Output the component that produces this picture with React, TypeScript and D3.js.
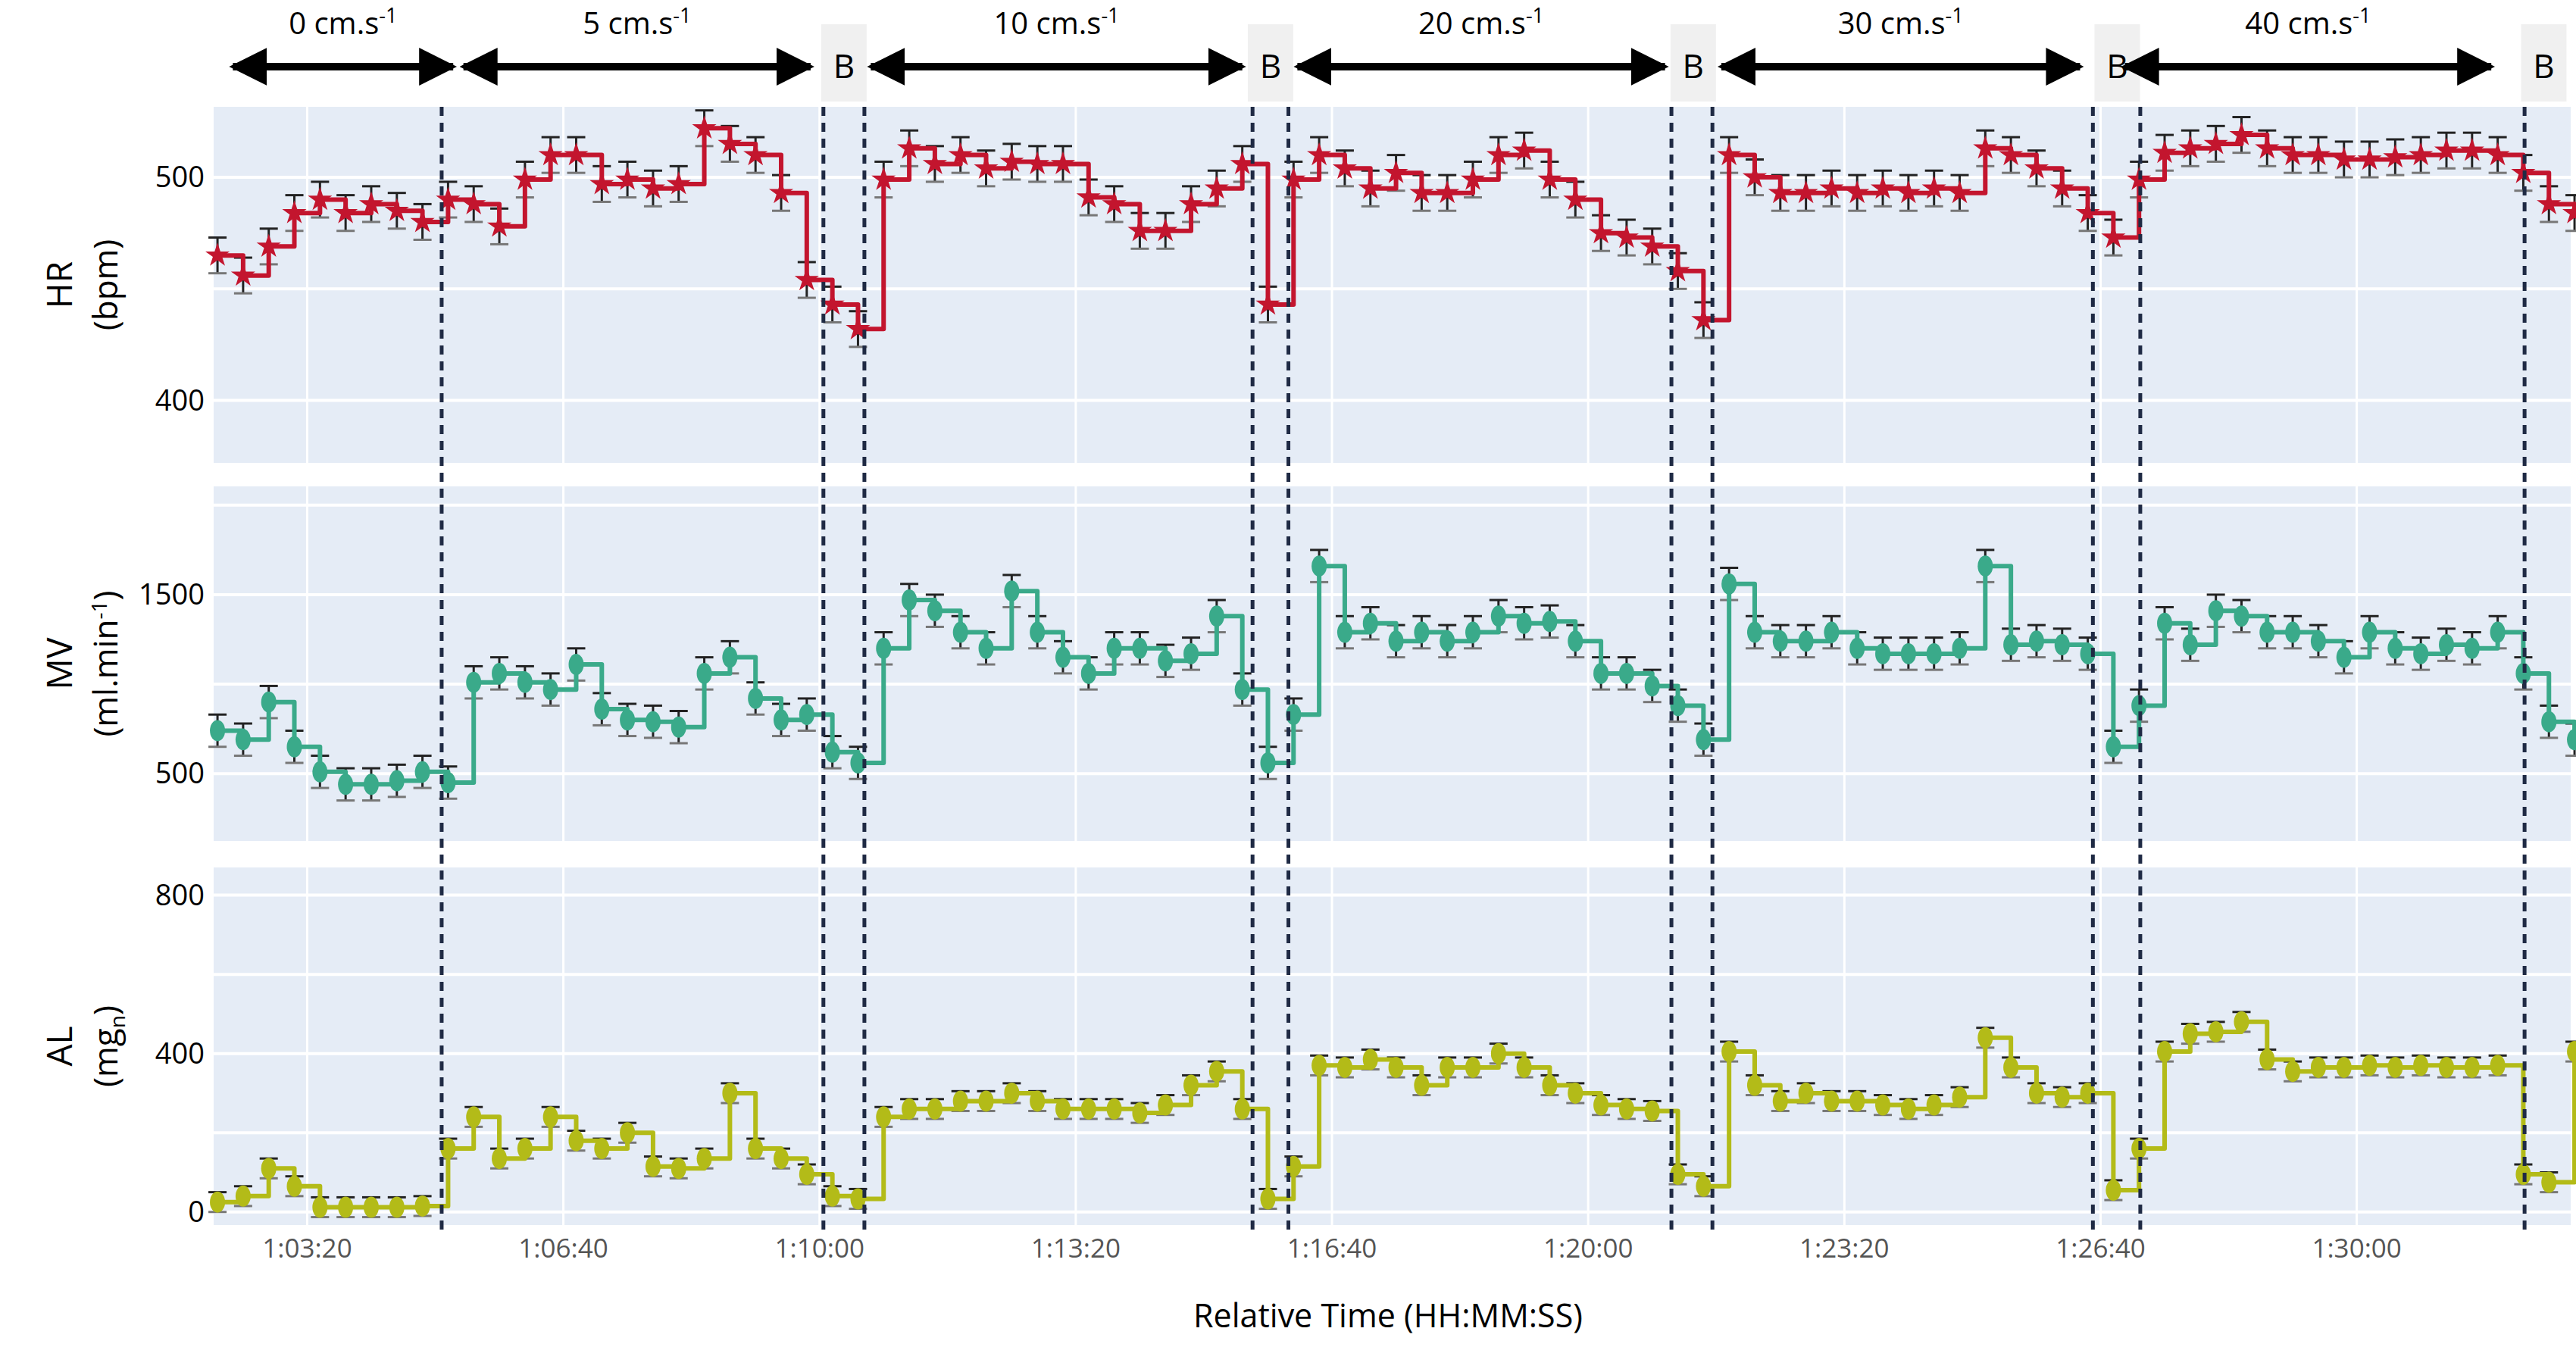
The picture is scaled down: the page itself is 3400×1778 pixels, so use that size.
import React from "react";
import * as d3 from "d3";

const T0 = 3730; // seconds
const DT = 20;
const hrValues = [465,456,469,484,490,484,488,485,480,490,488,478,499,510,510,497,499,495,497,522,515,510,493,454,443,432,499,513,506,510,504,507,506,506,491,488,476,476,488,495,506,443,499,510,504,495,502,493,493,499,510,512,499,490,475,473,469,458,436,510,500,493,493,495,493,495,493,495,493,513,510,504,495,484,473,499,511,513,515,519,513,510,510,508,508,509,510,512,512,510,502,488,484];
const mvValues = [740,690,900,650,510,440,440,460,510,450,1010,1060,1010,970,1110,860,800,790,760,1060,1150,920,800,830,620,560,1200,1470,1410,1290,1200,1520,1290,1150,1060,1200,1200,1130,1170,1380,970,560,830,1660,1290,1340,1240,1290,1240,1290,1380,1340,1350,1240,1060,1060,990,880,690,1560,1290,1240,1240,1290,1200,1170,1170,1170,1200,1660,1220,1240,1220,1170,650,880,1340,1220,1410,1380,1290,1290,1240,1150,1290,1200,1170,1220,1200,1290,1060,790,690];
const alValues = [25,40,110,65,12,12,12,12,15,160,240,135,160,240,180,160,200,115,110,135,300,160,135,95,40,33,240,260,260,280,280,300,280,260,260,260,250,270,320,355,260,33,115,370,365,385,365,320,365,365,400,365,320,300,270,260,255,95,65,405,320,280,300,280,280,270,260,270,290,440,365,300,290,300,55,160,405,450,455,480,385,355,365,365,370,365,370,365,365,370,95,75,405];
const hrErr = 8, mvErr = 90, alErr = 25;

const xTicks = [3800, 4000, 4200, 4400, 4600, 4800, 5000, 5200, 5400];
const boundaries = [3905, 4203, 4235, 4538, 4566, 4865, 4897, 5194, 5231, 5531];
const phaseLabels = ["0 cm.s", "5 cm.s", "10 cm.s", "20 cm.s", "30 cm.s", "40 cm.s"];
const phaseSpans: [number, number][] = [[3742, 3914], [3922, 4193], [4240, 4530], [4573, 4860], [4904, 5184], [5219, 5505]];
const bLabelTimes = [4219, 4552, 4882, 5213, 5546];

const fmt = (s: number) => {
  const h = Math.floor(s / 3600), m = Math.floor((s % 3600) / 60), ss = s % 60;
  return `${h}:${String(m).padStart(2, "0")}:${String(ss).padStart(2, "0")}`;
};

const X0 = 282, X1 = 3393;
const x = d3.scaleLinear().domain([3727, 5567]).range([X0, X1]);

type Panel = { vals: number[]; err: number; color: string; y0: number; y1: number; dom: [number, number]; ticks: number[]; grid: number[]; l1: string; l2: React.ReactNode; marker: "star" | "circle" };
const panels: Panel[] = [
  { vals: hrValues, err: hrErr, color: "#c3152e", y0: 141, y1: 611, dom: [372, 531.6], ticks: [400, 500], grid: [400, 450, 500], l1: "HR", l2: "(bpm)", marker: "star" },
  { vals: mvValues, err: mvErr, color: "#3aaa8a", y0: 642, y1: 1110, dom: [124, 2105], ticks: [500, 1500], grid: [500, 1000, 1500, 2000], l1: "MV", l2: <>(ml.min<tspan dy="-14" fontSize="28">-1</tspan><tspan dy="14">)</tspan></>, marker: "circle" },
  { vals: alValues, err: alErr, color: "#b3bb18", y0: 1145, y1: 1617, dom: [-33, 870], ticks: [0, 400, 800], grid: [0, 200, 400, 600, 800], l1: "AL", l2: <>(mg<tspan dy="10" fontSize="28">n</tspan><tspan dy="-10">)</tspan></>, marker: "circle" },
];
const font = "'Open Sans', 'Liberation Sans', sans-serif";

export default function App() {
  const star = d3.symbol(d3.symbolStar, 320)()!;
  return (
    <svg width={3400} height={1778} style={{ position: "fixed", left: 0, top: 0, background: "#fff" }} fontFamily={font}>
      {panels.map((p, pi) => {
        const y = d3.scaleLinear().domain(p.dom).range([p.y1, p.y0]);
        const pts = p.vals.map((v, i) => [x(T0 + i * DT), y(v)] as [number, number]);
        const line = d3.line().curve(d3.curveStepAfter)(pts)!;
        const cy = (p.y0 + p.y1) / 2;
        const e = y(0) - y(p.err);
        return (
          <g key={pi}>
            <rect x={X0} y={p.y0} width={X1 - X0} height={p.y1 - p.y0} fill="#e5ecf6" />
            {p.grid.map(g => <line key={g} x1={X0} x2={X1} y1={y(g)} y2={y(g)} stroke="#fff" strokeWidth={4} />)}
            {xTicks.map(t => <line key={t} x1={x(t)} x2={x(t)} y1={p.y0} y2={p.y1} stroke="#fff" strokeWidth={3} />)}
            {p.ticks.map(t => <text key={t} x={X0 - 12} y={y(t)} dy="0.35em" textAnchor="end" fontSize={38}>{t}</text>)}
            <g transform={`translate(95,${cy}) rotate(-90)`}>
              <text textAnchor="middle" fontSize={46} y={0}>{p.l1}</text>
              <text textAnchor="middle" fontSize={44} y={60}>{p.l2}</text>
            </g>
            <g stroke="#222" strokeWidth={3}>
              {pts.map(([px, py], i) => (
                <g key={i}>
                  <line x1={px} x2={px} y1={py - e} y2={py + e} />
                  <line x1={px - 12} x2={px + 12} y1={py - e} y2={py - e} />
                  <line x1={px - 12} x2={px + 12} y1={py + e} y2={py + e} stroke="#777" />
                </g>
              ))}
            </g>
            <path d={line} fill="none" stroke={p.color} strokeWidth={6} strokeLinejoin="round" />
            {pts.map(([px, py], i) => p.marker === "star"
              ? <path key={i} d={star} transform={`translate(${px},${py})`} fill={p.color} />
              : <ellipse key={i} cx={px} cy={py} rx={10} ry={14} fill={p.color} />)}
          </g>
        );
      })}
      {boundaries.map((b, i) => <line key={i} x1={x(b)} x2={x(b)} y1={141} y2={1625} stroke="#1f2a44" strokeWidth={5} strokeDasharray="12,9" />)}
      {bLabelTimes.map((t, i) => (
        <g key={i}>
          <rect x={x(t) - 30} y={32} width={60} height={102} fill="#f0f0f0" />
          <text x={x(t)} y={103} textAnchor="middle" fontSize={44}>B</text>
        </g>
      ))}
      <defs>
        <marker id="ah" viewBox="0 0 10 10" refX={9} refY={5} markerWidth={5} markerHeight={5} orient="auto-start-reverse" markerUnits="strokeWidth">
          <path d="M0,0 L10,5 L0,10 z" fill="#000" />
        </marker>
      </defs>
      {phaseSpans.map(([a, b], i) => (
        <g key={i}>
          <line x1={x(a)} x2={x(b)} y1={88} y2={88} stroke="#000" strokeWidth={10} markerStart="url(#ah)" markerEnd="url(#ah)" />
          <text x={(x(a) + x(b)) / 2} y={45} textAnchor="middle" fontSize={40}>{phaseLabels[i]}<tspan dy={-15} fontSize={27}>-1</tspan></text>
        </g>
      ))}
      {xTicks.map(t => <text key={t} x={x(t)} y={1660} textAnchor="middle" fontSize={35} fill="#555">{fmt(t)}</text>)}
      <text x={1832} y={1752} textAnchor="middle" fontSize={43}>Relative Time (HH:MM:SS)</text>
    </svg>
  );
}
